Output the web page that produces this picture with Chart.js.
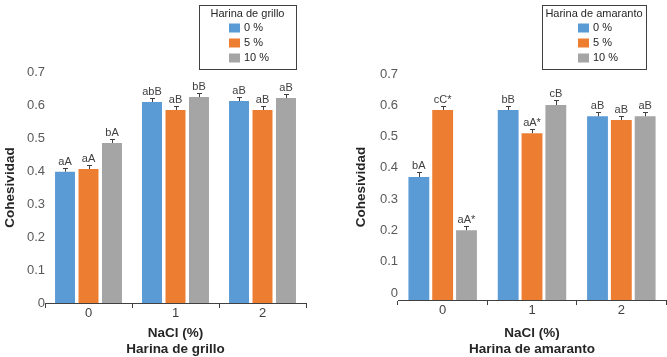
<!DOCTYPE html>
<html>
<head>
<meta charset="utf-8">
<script src="https://cdn.jsdelivr.net/npm/chart.js@4.4.0/dist/chart.umd.min.js"></script>
<style>
  body { margin: 0; background: #fff; }
  .wrap { display: flex; width: 667px; height: 357px; }
  canvas { display: block; }
</style>
</head>
<body>
<div class="wrap">
  <canvas id="grilloChart" width="334" height="357"></canvas>
  <canvas id="amarantoChart" width="333" height="357"></canvas>
</div>
<script>
// categories and series
const nacl = ['0', '1', '2'];
const harinaPct = ['0 %', '5 %', '10 %'];
const yTicks = [0, 0.1, 0.2, 0.3, 0.4, 0.5, 0.6, 0.7];

// Harina de grillo
const grillo0 = [0.398, 0.609, 0.612];
const grillo5 = [0.406, 0.585, 0.585];
const grillo10 = [0.485, 0.624, 0.621];
const grilloErr0 = [0.010, 0.011, 0.011];
const grilloErr5 = [0.011, 0.011, 0.011];
const grilloErr10 = [0.011, 0.012, 0.013];
const grilloLetters0 = ['aA', 'abB', 'aB'];
const grilloLetters5 = ['aA', 'aB', 'aB'];
const grilloLetters10 = ['bA', 'bB', 'aB'];

// Harina de amaranto
const amaranto0 = [0.371, 0.585, 0.565];
const amaranto5 = [0.585, 0.511, 0.553];
const amaranto10 = [0.201, 0.601, 0.565];
const amarantoErr0 = [0.016, 0.012, 0.014];
const amarantoErr5 = [0.012, 0.014, 0.013];
const amarantoErr10 = [0.014, 0.015, 0.015];
const amarantoLetters0 = ['bA', 'bB', 'aB'];
const amarantoLetters5 = ['cC*', 'aA*', 'aB'];
const amarantoLetters10 = ['aA*', 'cB', 'aB'];

const colors = ['#5B9BD5', '#ED7D31', '#A5A5A5'];
const FONT = '"Liberation Sans", Arial, sans-serif';

Chart.defaults.font.family = FONT;

// error bars (upper only) + significance letters
const errorLabelPlugin = {
  id: 'errorLabels',
  afterDatasetsDraw(chart, args, opts) {
    const ctx = chart.ctx;
    const yScale = chart.scales.y;
    ctx.save();
    ctx.strokeStyle = '#404040';
    ctx.fillStyle = '#404040';
    ctx.lineWidth = 1;
    ctx.font = '11px ' + FONT;
    ctx.textAlign = 'center';
    ctx.textBaseline = 'bottom';
    chart.data.datasets.forEach((ds, i) => {
      const meta = chart.getDatasetMeta(i);
      meta.data.forEach((bar, j) => {
        const cx = Math.round(bar.x) + 0.5;
        const capY = Math.round(yScale.getPixelForValue(ds.data[j] + opts.errors[i][j])) + 0.5;
        ctx.beginPath();
        ctx.moveTo(cx, bar.y);
        ctx.lineTo(cx, capY);
        ctx.moveTo(cx - 2.5, capY);
        ctx.lineTo(cx + 2.5, capY);
        ctx.stroke();
        ctx.fillText(opts.letters[i][j], bar.x, capY - 1);
      });
    });
    ctx.restore();
  }
};

// boxed legend with centered title
const boxLegendPlugin = {
  id: 'boxLegend',
  afterDraw(chart, args, opts) {
    const ctx = chart.ctx;
    ctx.save();
    ctx.strokeStyle = '#404040';
    ctx.lineWidth = 1;
    ctx.strokeRect(opts.x + 0.5, opts.y + 0.5, opts.w, opts.h);
    ctx.font = '11px ' + FONT;
    ctx.fillStyle = '#262626';
    ctx.textAlign = 'center';
    ctx.textBaseline = 'middle';
    ctx.fillText(opts.title, opts.x + opts.w / 2, opts.y + 9);
    chart.data.datasets.forEach((ds, i) => {
      const cy = opts.y + 23 + i * 15;
      ctx.fillStyle = ds.backgroundColor;
      ctx.fillRect(opts.swatchX, cy - 4.5, 11, 9);
      ctx.fillStyle = '#262626';
      ctx.textAlign = 'left';
      ctx.fillText(ds.label, opts.swatchX + 15, cy);
    });
    ctx.restore();
  }
};

function yTickLabel(v) {
  return v === 0 ? '0' : v.toFixed(1);
}

function buildChart(id, opts) {
  return new Chart(document.getElementById(id), {
    type: 'bar',
    data: {
      labels: nacl,
      datasets: opts.series.map((data, i) => ({
        label: harinaPct[i],
        data: data,
        backgroundColor: colors[i],
        borderWidth: 0
      }))
    },
    options: {
      responsive: false,
      animation: false,
      layout: { padding: opts.padding },
      datasets: {
        bar: {
          categoryPercentage: opts.catPct,
          barPercentage: opts.barPct,
          base: opts.yMin
        }
      },
      scales: {
        x: {
          grid: { display: true, offset: true, drawOnChartArea: false, drawTicks: true, tickLength: 5, color: '#404040' },
          border: { display: true, color: '#404040' },
          ticks: { color: '#404040', font: { size: 13 }, padding: -2 },
          title: {
            display: true,
            text: ['NaCl (%)', opts.title],
            color: '#262626',
            font: { size: 13.5, weight: 'bold', lineHeight: 1.19 },
            padding: 0
          },
          afterFit(scale) { scale.height = opts.xHeight; }
        },
        y: {
          min: opts.yMin,
          max: 0.7,
          grid: { display: false, drawTicks: false },
          border: { display: false },
          ticks: { color: '#595959', font: { size: 13 }, padding: 0, callback: yTickLabel },
          afterBuildTicks(scale) { scale.ticks = yTicks.map(v => ({ value: v })); },
          title: {
            display: true,
            text: 'Cohesividad',
            color: '#262626',
            font: { size: 13.5, weight: 'bold', lineHeight: 1.19 },
            padding: { top: 2, bottom: 0 }
          },
          afterFit(scale) { scale.width = opts.yWidth; }
        }
      },
      plugins: {
        legend: { display: false },
        tooltip: { enabled: false },
        errorLabels: { errors: opts.errors, letters: opts.letters },
        boxLegend: opts.legend
      }
    },
    plugins: [errorLabelPlugin, boxLegendPlugin]
  });
}

buildChart('grilloChart', {
  series: [grillo0, grillo5, grillo10],
  errors: [grilloErr0, grilloErr5, grilloErr10],
  letters: [grilloLetters0, grilloLetters5, grilloLetters10],
  title: 'Harina de grillo',
  yMin: 0,
  padding: { top: 72, right: 28, left: 0, bottom: 0 },
  yWidth: 45,
  xHeight: 54,
  catPct: 0.81,
  barPct: 0.85,
  legend: { title: 'Harina de grillo', x: 199, y: 5, w: 97, h: 64, swatchX: 229 }
});

buildChart('amarantoChart', {
  series: [amaranto0, amaranto5, amaranto10],
  errors: [amarantoErr0, amarantoErr5, amarantoErr10],
  letters: [amarantoLetters0, amarantoLetters5, amarantoLetters10],
  title: 'Harina de amaranto',
  yMin: -0.022,
  padding: { top: 74, right: 1, left: 17, bottom: 0 },
  yWidth: 47,
  xHeight: 57,
  catPct: 0.8,
  barPct: 0.875,
  legend: { title: 'Harina de amaranto', x: 208, y: 5, w: 104, h: 64, swatchX: 244 }
});
</script>
</body>
</html>
